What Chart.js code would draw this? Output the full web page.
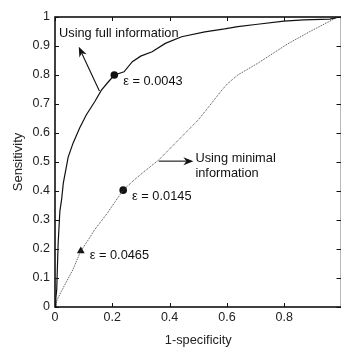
<!DOCTYPE html>
<html>
<head>
<meta charset="utf-8">
<script src="https://cdn.jsdelivr.net/npm/chart.js@4/dist/chart.umd.min.js"></script>
<style>
    html, body { margin: 0; padding: 0; background: #fff; overflow: hidden; }
    canvas { display: block; }
</style>
</head>
<body>
<canvas id="roc" width="346" height="347"></canvas>
<script>
// ROC curve, full information (solid)
const fullX = [0, 0.003, 0.006, 0.011, 0.017, 0.023, 0.029, 0.046, 0.063, 0.086, 0.109, 0.138, 0.162, 0.185, 0.207, 0.241, 0.27, 0.299, 0.339, 0.385, 0.442, 0.523, 0.592, 0.638, 0.707, 0.799, 0.868, 0.959, 0.983];
const fullY = [0, 0.03, 0.06, 0.22, 0.33, 0.37, 0.427, 0.517, 0.565, 0.617, 0.662, 0.707, 0.748, 0.775, 0.80, 0.811, 0.846, 0.865, 0.88, 0.909, 0.932, 0.949, 0.959, 0.967, 0.975, 0.986, 0.99, 0.993, 0.998];

// ROC curve, minimal information (dotted)
const minX = [0, 0.007, 0.02, 0.034, 0.062, 0.09, 0.115, 0.138, 0.183, 0.214, 0.238, 0.276, 0.31, 0.362, 0.407, 0.455, 0.5, 0.546, 0.58, 0.603, 0.638, 0.707, 0.81, 0.89, 0.983];
const minY = [0, 0.024, 0.05, 0.076, 0.128, 0.193, 0.23, 0.266, 0.324, 0.369, 0.403, 0.438, 0.466, 0.507, 0.552, 0.6, 0.645, 0.702, 0.745, 0.771, 0.80, 0.84, 0.906, 0.95, 0.998];

// operating points
const markX = [0.207, 0.238, 0.09];
const markY = [0.80, 0.403, 0.193];
const markStyle = ['circle', 'circle', 'triangle'];

const xTicks = [0, 0.2, 0.4, 0.6, 0.8, 1];
const yTicks = [0, 0.1, 0.2, 0.3, 0.4, 0.5, 0.6, 0.7, 0.8, 0.9, 1];

// annotation texts, anchored in data units
const labels = [
    { text: 'Using full information', x: 0.014, y: 0.944 },
    { text: '\u03b5 = 0.0043', x: 0.238, y: 0.779 },
    { text: 'Using minimal', x: 0.49, y: 0.511 },
    { text: 'information', x: 0.49, y: 0.459 },
    { text: '\u03b5 = 0.0145', x: 0.269, y: 0.381 },
    { text: '\u03b5 = 0.0465', x: 0.121, y: 0.178 }
];
const arrows = [
    { x0: 0.155, y0: 0.745, x1: 0.083, y1: 0.897 },
    { x0: 0.362, y0: 0.503, x1: 0.483, y1: 0.503 }
];

const FONT = 'Liberation Sans';
const fmt = v => Number(v.toFixed(1)).toString();

const pts = (xs, ys) => xs.map((x, i) => ({ x: x, y: ys[i] }));

// MATLAB-style box with inward ticks
const frame = {
    id: 'frame',
    afterDatasetsDraw(chart) {
        const { ctx, chartArea: a, scales } = chart;
        ctx.save();
        ctx.strokeStyle = '#111';
        ctx.lineWidth = 1;
        ctx.beginPath();
        xTicks.forEach(v => {
            const px = Math.round(scales.x.getPixelForValue(v)) + 0.5;
            ctx.moveTo(px, a.bottom); ctx.lineTo(px, a.bottom - 4);
            ctx.moveTo(px, a.top); ctx.lineTo(px, a.top + 4);
        });
        yTicks.forEach(v => {
            const py = Math.round(scales.y.getPixelForValue(v)) + 0.5;
            ctx.moveTo(a.left, py); ctx.lineTo(a.left + 4, py);
            ctx.moveTo(a.right, py); ctx.lineTo(a.right - 5, py);
        });
        ctx.stroke();
        ctx.lineWidth = 1.6;
        ctx.strokeRect(a.left, a.top, a.right - a.left, a.bottom - a.top);
        ctx.restore();
    }
};

const notes = {
    id: 'notes',
    afterDatasetsDraw(chart) {
        const { ctx, scales } = chart;
        const sx = scales.x, sy = scales.y;
        ctx.save();
        ctx.fillStyle = '#111';
        ctx.strokeStyle = '#111';
        ctx.font = '12.8px "' + FONT + '"';
        ctx.textBaseline = 'middle';
        ctx.textAlign = 'left';
        labels.forEach(l => ctx.fillText(l.text, sx.getPixelForValue(l.x), sy.getPixelForValue(l.y)));

        arrows.forEach(ar => {
            const x0 = sx.getPixelForValue(ar.x0), y0 = sy.getPixelForValue(ar.y0);
            const x1 = sx.getPixelForValue(ar.x1), y1 = sy.getPixelForValue(ar.y1);
            const c = Math.cos(Math.atan2(y1 - y0, x1 - x0)), s = Math.sin(Math.atan2(y1 - y0, x1 - x0));
            const len = 10, wid = 4, back = 7;
            ctx.lineWidth = 1.1;
            ctx.beginPath();
            ctx.moveTo(x0, y0);
            ctx.lineTo(x1 - back * c, y1 - back * s);
            ctx.stroke();
            ctx.beginPath();
            ctx.moveTo(x1, y1);
            ctx.lineTo(x1 - len * c + wid * s, y1 - len * s - wid * c);
            ctx.lineTo(x1 - back * c, y1 - back * s);
            ctx.lineTo(x1 - len * c - wid * s, y1 - len * s + wid * c);
            ctx.closePath();
            ctx.fill();
        });
        ctx.restore();
    }
};

new Chart(
    document.getElementById('roc'),
    {
        type: 'scatter',
        data: {
            datasets: [
                {
                    label: 'Using full information',
                    data: pts(fullX, fullY),
                    showLine: true,
                    borderColor: '#111',
                    borderWidth: 1.2,
                    pointRadius: 0,
                    tension: 0
                }, {
                    label: 'Using minimal information',
                    data: pts(minX, minY),
                    showLine: true,
                    borderColor: '#444',
                    borderWidth: 1,
                    borderDash: [1, 1],
                    pointRadius: 0,
                    tension: 0
                }, {
                    label: 'operating points',
                    data: pts(markX, markY),
                    showLine: false,
                    pointStyle: markStyle,
                    pointRadius: [3.8, 3.8, 4.5],
                    backgroundColor: '#111',
                    borderColor: '#111',
                    borderWidth: 0
                }
            ]
        },
        options: {
            responsive: false,
            animation: false,
            layout: {
                padding: { top: 17, right: 1, bottom: 0, left: 0 }
            },
            plugins: {
                legend: { display: false },
                tooltip: { enabled: false }
            },
            scales: {
                x: {
                    type: 'linear',
                    min: 0,
                    max: 1,
                    afterFit: s => { s.height = 40; },
                    afterBuildTicks: s => { s.ticks = xTicks.map(v => ({ value: v })); },
                    grid: { display: false, drawTicks: false },
                    border: { display: false },
                    ticks: {
                        color: '#222',
                        padding: 3,
                        maxRotation: 0,
                        autoSkip: false,
                        font: { family: FONT, size: 12.5 },
                        callback: v => (v >= 1 ? '' : fmt(v))
                    },
                    title: {
                        display: true,
                        text: '1-specificity',
                        color: '#222',
                        padding: { top: 0, bottom: 0 },
                        font: { family: FONT, size: 12.8, lineHeight: 1 }
                    }
                },
                y: {
                    type: 'linear',
                    min: 0,
                    max: 1,
                    afterFit: s => { s.width = 55; },
                    afterBuildTicks: s => { s.ticks = yTicks.map(v => ({ value: v })); },
                    grid: { display: false, drawTicks: false },
                    border: { display: false },
                    ticks: {
                        color: '#222',
                        padding: 5,
                        autoSkip: false,
                        font: { family: FONT, size: 12.5 },
                        callback: v => fmt(v)
                    },
                    title: {
                        display: true,
                        text: 'Sensitivity',
                        color: '#222',
                        padding: { top: 11.5, bottom: 0 },
                        font: { family: FONT, size: 13, lineHeight: 1 }
                    }
                }
            }
        },
        plugins: [frame, notes]
    }
);
</script>
</body>
</html>
